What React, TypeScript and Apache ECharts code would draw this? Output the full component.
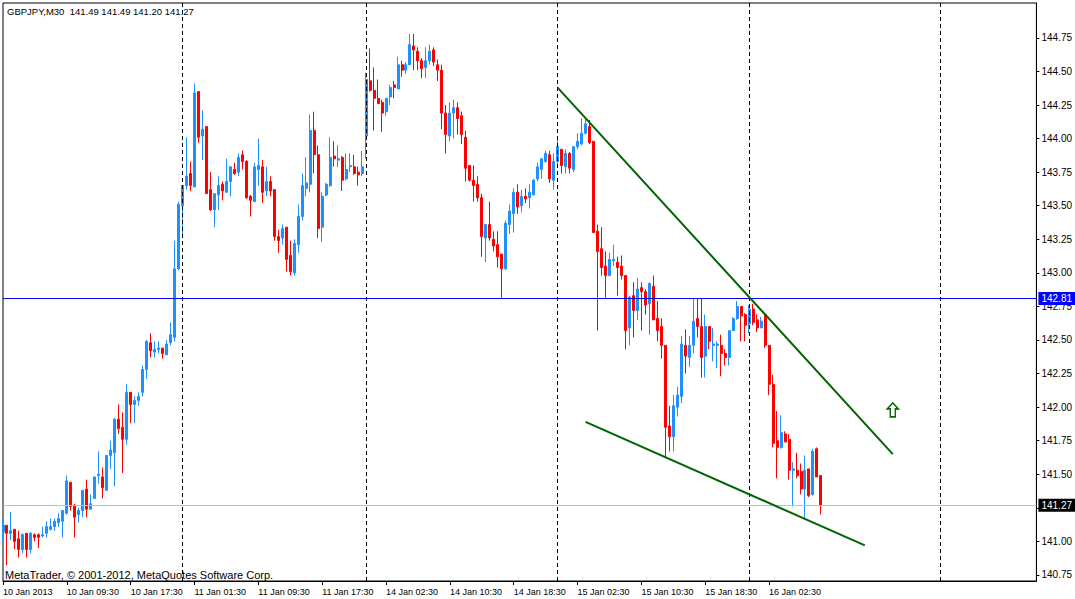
import React, { useEffect, useRef } from "react";
import * as echarts from "echarts";

// ---- Data (GBPJPY, M30): one entry per bar, from 10 Jan 01:30 ----
const openP = [
  141.07, 141.12, 141.06, 141.09, 141.02, 140.94, 141.06, 140.94, 141.05, 141.05,
  141.04, 141.06, 141.09, 141.11, 141.14, 141.15, 141.21, 141.44, 141.27, 141.2,
  141.23, 141.39, 141.24, 141.32, 141.49, 141.48, 141.38, 141.64, 141.66, 141.91,
  141.85, 141.76, 142.11, 142.02, 142.05, 142.11, 142.28, 142.48, 142.41, 142.43,
  142.44, 142.39, 142.48, 142.52, 143.03, 143.5, 143.65, 143.74, 143.64, 144.35,
  144.02, 144.09, 143.62, 143.47, 143.58, 143.66, 143.6, 143.68, 143.77, 143.75,
  143.88, 143.83, 143.57, 143.53, 143.77, 143.79, 143.61, 143.68, 143.62, 143.27,
  143.26, 143.34, 143.13, 143.0, 143.21, 143.42, 143.63, 143.66, 144.06, 143.88,
  143.34, 143.58, 143.65, 143.87, 143.84, 143.86, 143.7, 143.79, 143.79, 143.75,
  143.74, 144.02, 144.43, 144.36, 144.3, 144.27, 144.2, 144.31, 144.4, 144.37,
  144.55, 144.51, 144.55, 144.69, 144.65, 144.58, 144.53, 144.58, 144.66, 144.55,
  144.51, 144.19, 144.02, 144.19, 144.23, 144.17, 144.01, 143.8, 143.69, 143.66,
  143.56, 143.26, 143.36, 143.25, 143.21, 143.14, 143.03, 143.36, 143.44, 143.6,
  143.5, 143.57, 143.56, 143.58, 143.7, 143.77, 143.83, 143.88, 143.69, 143.83,
  143.92, 143.79, 143.89, 143.77, 143.94, 143.96, 144.04, 144.09, 143.98, 143.31,
  143.18, 143.05, 142.98, 143.09, 143.08, 143.05, 142.98, 142.59, 142.83, 142.72,
  142.89, 142.86, 142.77, 142.9, 142.66, 142.6, 142.46, 141.86, 141.78, 142.0,
  142.08, 142.46, 142.37, 142.46, 142.66, 142.6, 142.38, 142.6, 142.46, 142.46,
  142.46, 142.4, 142.37, 142.57, 142.66, 142.75, 142.69, 142.62, 142.73, 142.65,
  142.59, 142.69, 142.46, 142.17, 141.75, 141.7, 141.8, 141.76, 141.53, 141.53,
  141.52, 141.39, 141.54, 141.35, 141.69, 141.49,
];

const highP = [
  141.16, 141.12, 141.22, 141.09, 141.08, 141.06, 141.06, 141.07, 141.06, 141.06,
  141.11, 141.15, 141.17, 141.17, 141.21, 141.23, 141.49, 141.44, 141.28, 141.25,
  141.38, 141.46, 141.35, 141.48, 141.67, 141.55, 141.64, 141.75, 141.92, 142.02,
  141.96, 142.17, 142.11, 142.08, 142.11, 142.31, 142.5, 142.55, 142.49, 142.49,
  142.44, 142.5, 142.63, 143.24, 143.53, 143.65, 144.01, 143.83, 144.41, 144.35,
  144.21, 144.09, 143.75, 143.59, 143.72, 143.68, 143.85, 143.79, 143.82, 143.89,
  143.91, 143.84, 143.58, 143.82, 144.0, 143.84, 143.79, 143.72, 143.62, 143.32,
  143.36, 143.34, 143.24, 143.25, 143.51, 143.74, 143.86, 144.18, 144.2, 143.95,
  143.6, 143.67, 144.01, 143.98, 143.95, 143.87, 143.89, 143.89, 143.88, 143.79,
  143.91, 144.49, 144.67, 144.53, 144.44, 144.29, 144.3, 144.4, 144.43, 144.61,
  144.58, 144.57, 144.78, 144.78, 144.68, 144.6, 144.68, 144.7, 144.68, 144.59,
  144.55, 144.25, 144.27, 144.29, 144.27, 144.2, 144.06, 143.8, 143.8, 143.72,
  143.59, 143.36, 143.53, 143.31, 143.31, 143.14, 143.39, 143.51, 143.63, 143.66,
  143.62, 143.63, 143.66, 143.7, 143.82, 143.85, 143.91, 143.91, 143.89, 144.0,
  143.92, 143.92, 143.9, 143.94, 144.04, 144.15, 144.15, 144.14, 143.98, 143.36,
  143.34, 143.16, 143.15, 143.21, 143.12, 143.13, 142.98, 142.83, 142.93, 142.96,
  142.93, 142.88, 142.93, 142.98, 142.79, 142.66, 142.46, 142.01, 142.09, 142.15,
  142.53, 142.58, 142.53, 142.81, 142.81, 142.81, 142.69, 142.6, 142.59, 142.49,
  142.54, 142.43, 142.57, 142.67, 142.79, 142.75, 142.7, 142.76, 142.77, 142.69,
  142.67, 142.69, 142.46, 142.24, 141.97, 141.94, 141.82, 141.8, 141.59, 141.66,
  141.58, 141.64, 141.54, 141.69, 141.7, 141.49,
];

const lowP = [
  141.0, 140.82, 141.01, 140.94, 140.88, 140.91, 140.88, 140.91, 141.0, 140.95,
  141.03, 141.03, 141.08, 141.08, 141.11, 141.03, 141.2, 141.23, 141.03, 141.14,
  141.18, 141.18, 141.24, 141.32, 141.43, 141.32, 141.38, 141.54, 141.41, 141.8,
  141.51, 141.72, 141.88, 141.88, 142.01, 142.08, 142.21, 142.37, 142.37, 142.4,
  142.36, 142.39, 142.46, 142.49, 143.02, 143.29, 143.62, 143.61, 143.64, 143.97,
  143.84, 143.59, 143.46, 143.34, 143.47, 143.54, 143.6, 143.57, 143.73, 143.72,
  143.77, 143.55, 143.42, 143.53, 143.65, 143.52, 143.57, 143.57, 143.24, 143.15,
  143.21, 143.01, 142.98, 142.98, 143.15, 143.39, 143.57, 143.6, 143.74, 143.26,
  143.23, 143.57, 143.64, 143.79, 143.79, 143.61, 143.69, 143.75, 143.73, 143.65,
  143.72, 143.85, 144.35, 144.06, 144.26, 144.05, 144.17, 144.25, 144.3, 144.37,
  144.46, 144.48, 144.55, 144.51, 144.51, 144.45, 144.45, 144.55, 144.54, 144.43,
  144.07, 143.89, 143.98, 144.0, 144.03, 143.96, 143.68, 143.68, 143.53, 143.53,
  143.12, 143.08, 143.24, 143.16, 143.04, 142.81, 143.02, 143.29, 143.3, 143.44,
  143.45, 143.52, 143.48, 143.58, 143.68, 143.7, 143.82, 143.67, 143.62, 143.81,
  143.74, 143.74, 143.74, 143.75, 143.92, 143.95, 144.03, 143.96, 143.3, 142.57,
  142.98, 142.81, 142.98, 143.05, 142.83, 142.95, 142.43, 142.46, 142.52, 142.65,
  142.57, 142.69, 142.54, 142.65, 142.49, 142.36, 141.62, 141.67, 141.67, 141.93,
  142.03, 142.25, 142.3, 142.4, 142.52, 142.22, 142.22, 142.43, 142.34, 142.29,
  142.23, 142.31, 142.31, 142.57, 142.65, 142.49, 142.49, 142.55, 142.61, 142.56,
  142.59, 142.44, 142.09, 141.7, 141.47, 141.69, 141.74, 141.46, 141.26, 141.47,
  141.35, 141.17, 141.33, 141.34, 141.48, 141.2,
];

const closeP = [
  141.12, 141.06, 141.08, 141.0, 140.94, 141.05, 140.94, 141.06, 141.03, 141.03,
  141.05, 141.11, 141.11, 141.15, 141.17, 141.23, 141.45, 141.26, 141.18, 141.23,
  141.38, 141.24, 141.28, 141.48, 141.5, 141.4, 141.64, 141.68, 141.91, 141.84,
  141.76, 142.11, 142.02, 142.05, 142.08, 142.28, 142.49, 142.42, 142.43, 142.44,
  142.4, 142.47, 142.54, 143.03, 143.51, 143.65, 143.72, 143.65, 144.34, 144.01,
  144.07, 143.59, 143.47, 143.59, 143.65, 143.61, 143.68, 143.79, 143.74, 143.86,
  143.83, 143.56, 143.54, 143.79, 143.8, 143.6, 143.68, 143.61, 143.27, 143.24,
  143.33, 143.1, 143.01, 143.22, 143.42, 143.65, 143.67, 144.06, 143.88, 143.33,
  143.57, 143.66, 143.86, 143.85, 143.85, 143.69, 143.77, 143.8, 143.74, 143.73,
  143.79, 144.44, 144.36, 144.3, 144.26, 144.19, 144.3, 144.38, 144.38, 144.55,
  144.51, 144.55, 144.7, 144.66, 144.58, 144.52, 144.58, 144.65, 144.57, 144.51,
  144.19, 144.03, 144.19, 144.23, 144.15, 144.03, 143.78, 143.69, 143.65, 143.56,
  143.27, 143.36, 143.26, 143.2, 143.12, 143.03, 143.37, 143.46, 143.6, 143.49,
  143.57, 143.55, 143.6, 143.69, 143.79, 143.85, 143.89, 143.7, 143.83, 143.94,
  143.8, 143.89, 143.78, 143.94, 143.98, 144.04, 144.11, 143.97, 143.3, 143.16,
  143.04, 142.98, 143.1, 143.1, 143.04, 142.98, 142.57, 142.82, 142.72, 142.88,
  142.86, 142.76, 142.92, 142.65, 142.57, 142.46, 141.85, 141.78, 142.01, 142.09,
  142.47, 142.38, 142.46, 142.64, 142.6, 142.37, 142.6, 142.49, 142.47, 142.47,
  142.4, 142.37, 142.57, 142.66, 142.75, 142.68, 142.61, 142.73, 142.63, 142.59,
  142.64, 142.46, 142.17, 141.73, 141.7, 141.81, 141.74, 141.53, 141.54, 141.49,
  141.39, 141.53, 141.34, 141.67, 141.48, 141.27,
];

// time-axis labels, one every 16 bars (8 hours) starting at bar 0
const xTickLabels = [
  "10 Jan 2013", "10 Jan 09:30", "10 Jan 17:30", "11 Jan 01:30", "11 Jan 09:30",
  "11 Jan 17:30", "14 Jan 02:30", "14 Jan 10:30", "14 Jan 18:30", "15 Jan 02:30",
  "15 Jan 10:30", "15 Jan 18:30", "16 Jan 02:30",
];
const X_TICK_STEP = 16;
const TOTAL_SLOTS = 260; // bars + empty right-hand shift area
const daySeparators = [45, 91, 139, 187, 235]; // bar index of each new day

const yTickValues = [
  140.75, 141.0, 141.25, 141.5, 141.75, 142.0, 142.25, 142.5, 142.75,
  143.0, 143.25, 143.5, 143.75, 144.0, 144.25, 144.5, 144.75,
];
const Y_MIN = 140.705;
const Y_MAX = 145.01;

const levelPrice = 142.81;
const bidPrice = 141.27;
const upperTrend = [
  [139, 144.38],
  [223, 141.65],
];
const lowerTrend = [
  [146, 141.89],
  [216, 140.97],
];
const arrowAt = [223, 141.98];

const symbolName = "GBPJPY,M30";
const copyright = "MetaTrader, \u00a9 2001-2012, MetaQuotes Software Corp.";

const BULL = "#1E90FF";
const BEAR = "#FF0000";
const TREND = "#006400";
const FONT = "'Liberation Sans', Arial, sans-serif";

function buildOption() {
  const categories = Array.from({ length: TOTAL_SLOTS }, (_, i) => String(i));
  const candles = openP.map((o, i) => [o, closeP[i], lowP[i], highP[i]]);
  const last = openP.length - 1;
  const header = `${symbolName}  ${openP[last].toFixed(2)} ${highP[last].toFixed(2)} ${lowP[last].toFixed(2)} ${closeP[last].toFixed(2)}`;
  const isTick = (i: number) => i % X_TICK_STEP === 0 && i / X_TICK_STEP < xTickLabels.length;

  const sepLines = daySeparators.map((d) => ({
    xAxis: d,
    lineStyle: { color: "#000", type: [4, 3], width: 1 },
    label: { show: false },
  }));

  const priceLine = (p: number, lineColor: string, boxColor: string) => ({
    yAxis: p,
    lineStyle: { color: lineColor, type: "solid", width: 1 },
    label: {
      show: true,
      position: "end",
      distance: 2,
      formatter: p.toFixed(2),
      backgroundColor: boxColor,
      color: "#fff",
      padding: [2, 3, 1, 3],
      fontSize: 10,
      fontFamily: FONT,
    },
  });

  const trend = (pts: number[][]) => [
    { coord: pts[0], lineStyle: { color: TREND, width: 2, type: "solid" }, label: { show: false } },
    { coord: pts[1] },
  ];

  return {
    animation: false,
    backgroundColor: "#ffffff",
    textStyle: { fontFamily: FONT },
    grid: {
      left: 3,
      right: 38,
      top: 3,
      bottom: 18,
      show: true,
      borderColor: "#000",
      borderWidth: 1,
      backgroundColor: "transparent",
    },
    xAxis: {
      type: "category",
      data: categories,
      boundaryGap: false,
      axisLine: { show: true, lineStyle: { color: "#000", width: 1 } },
      axisTick: {
        show: true,
        interval: (i: number) => isTick(i),
        length: 4,
        lineStyle: { color: "#000" },
      },
      axisLabel: {
        show: true,
        interval: (i: number) => isTick(i),
        formatter: (v: string) => {
          const i = Number(v);
          return isTick(i) ? xTickLabels[i / X_TICK_STEP] : "";
        },
        align: "left",
        margin: 6,
        fontSize: 9,
        color: "#000",
        fontFamily: FONT,
      },
      splitLine: { show: false },
    },
    yAxis: {
      type: "value",
      position: "right",
      min: Y_MIN,
      max: Y_MAX,
      axisLine: { show: true, lineStyle: { color: "#000", width: 1 } },
      axisTick: { show: true, customValues: yTickValues, length: 3, lineStyle: { color: "#000" } },
      axisLabel: {
        customValues: yTickValues,
        formatter: (v: number) => v.toFixed(2),
        margin: 5,
        fontSize: 10,
        color: "#000",
        fontFamily: FONT,
      },
      splitLine: { show: false },
    },
    series: [
      {
        type: "candlestick",
        data: candles,
        barWidth: 2.5,
        itemStyle: {
          color: BULL,
          color0: BEAR,
          borderColor: BULL,
          borderColor0: BEAR,
          borderWidth: 1,
        },
        markLine: {
          silent: true,
          symbol: ["none", "none"],
          label: { show: false },
          animation: false,
          data: [
            ...sepLines,
            priceLine(levelPrice, "#0000FF", "#0000FF"),
            priceLine(bidPrice, "#C0C0C0", "#000000"),
            trend(upperTrend),
            trend(lowerTrend),
          ],
        },
        markPoint: {
          silent: true,
          animation: false,
          data: [
            {
              coord: arrowAt,
              symbol: "path://M5.5,0 L11,6 L8,6 L8,14 L3,14 L3,6 L0,6 Z",
              symbolSize: [11, 14],
              itemStyle: { color: "#ffffff", borderColor: TREND, borderWidth: 1.5 },
              label: { show: false },
            },
          ],
        },
      },
    ],
    graphic: [
      {
        type: "text",
        left: 7,
        top: 6,
        silent: true,
        style: { text: header, fill: "#000", fontSize: 9.5, fontFamily: FONT },
      },
      {
        type: "text",
        left: 5,
        top: 569,
        silent: true,
        style: { text: copyright, fill: "#000", fontSize: 11, fontFamily: FONT },
      },
    ],
  };
}

export default function App() {
  const ref = useRef<HTMLDivElement>(null);
  useEffect(() => {
    if (!ref.current) return;
    const chart = echarts.init(ref.current, null, { renderer: "svg" });
    chart.setOption(buildOption() as any);
    return () => chart.dispose();
  }, []);
  return (
    <div
      ref={ref}
      style={{ position: "fixed", left: 0, top: 0, width: 1075, height: 599, background: "#fff" }}
    />
  );
}
